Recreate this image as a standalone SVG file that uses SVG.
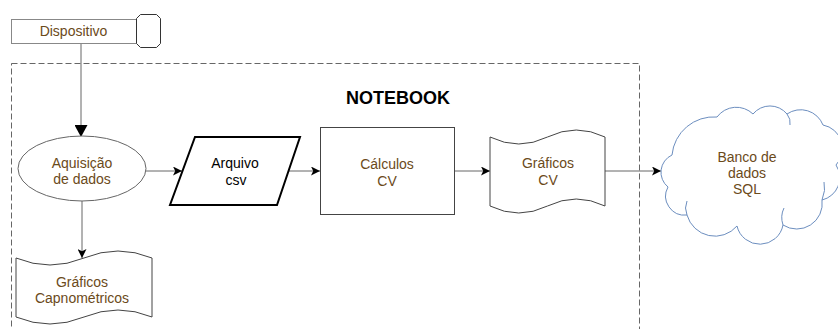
<svg xmlns="http://www.w3.org/2000/svg" width="838" height="329" viewBox="0 0 838 329">
<style>
text{font-family:"Liberation Sans",Arial,sans-serif;font-size:14px;text-anchor:middle;fill:#6b4a1a}
.shape{fill:#fff;stroke:#444;stroke-width:1}
.conn{fill:none;stroke:#666;stroke-width:1}
.dark{fill:#000}
</style>
<defs>
<marker id="block" markerUnits="userSpaceOnUse" viewBox="0 0 12 13" refX="12" refY="6.5" markerWidth="12" markerHeight="13" orient="auto">
<path d="M0,0 L12,6.5 L0,13 z" fill="#000"/>
</marker>
<marker id="classic" markerUnits="userSpaceOnUse" viewBox="0 0 9 9" refX="9" refY="4.5" markerWidth="9" markerHeight="9" orient="auto">
<path d="M0,0 L9,4.5 L0,9 L2.2,4.5 z" fill="#000"/>
</marker>
</defs>

<g id="notebook-frame">
<rect x="11.5" y="63.5" width="628" height="300" fill="none" stroke="#666" stroke-width="1" stroke-dasharray="6 3"/>
<text x="398" y="104" style="font-size:18px;font-weight:bold;fill:#000">NOTEBOOK</text>
</g>

<g id="connectors">
<line class="conn" x1="81" y1="43" x2="81" y2="137" marker-end="url(#block)"/>
<line class="conn" x1="146" y1="171" x2="182" y2="171" marker-end="url(#classic)"/>
<line class="conn" x1="82" y1="201" x2="82" y2="258" marker-end="url(#classic)"/>
<line class="conn" x1="288" y1="171" x2="320" y2="171" marker-end="url(#classic)"/>
<line class="conn" x1="454" y1="171" x2="490" y2="171" marker-end="url(#classic)"/>
<line class="conn" x1="605" y1="171" x2="661" y2="171" marker-end="url(#classic)"/>
</g>

<g id="dispositivo">
<rect x="11.5" y="19.5" width="125" height="24" fill="#fff" stroke="#888"/>
<path d="M140.5,14.5 L156.5,14.5 L160.5,18.5 L160.5,43.5 L156.5,47.5 L140.5,47.5 L136.5,43.5 L136.5,18.5 Z" fill="#fff" stroke="#333"/>
<text x="73.5" y="36">Dispositivo</text>
</g>

<g id="aquisicao">
<ellipse cx="82" cy="168.5" rx="64" ry="32.5" class="shape" style="stroke:#666"/>
<text x="82" y="168">Aquisição</text>
<text x="82" y="184">de dados</text>
</g>

<g id="graficos-capnometricos">
<path class="shape" d="M16,258 Q50,272 84,258 Q118,244 152,258 L152,317 Q118,303 84,317 Q50,331 16,317 Z"/>
<text x="82" y="287">Gráficos</text>
<text x="82" y="303">Capnométricos</text>
</g>

<g id="arquivo-csv">
<path d="M195,137 L300,137 L277,205 L170,205 Z" fill="#fff" stroke="#000" stroke-width="2"/>
<text x="235" y="168" style="fill:#000">Arquivo</text>
<text x="236" y="185" style="fill:#000">csv</text>
</g>

<g id="calculos-cv">
<rect x="320.5" y="127.5" width="134" height="87" class="shape"/>
<text x="387" y="169">Cálculos</text>
<text x="387" y="186">CV</text>
</g>

<g id="graficos-cv">
<path class="shape" d="M490,137 Q518.75,151 547.5,137 Q576.25,123 605,137 L605,206 Q576.25,192 547.5,206 Q518.75,220 490,206 Z"/>
<text x="548" y="168">Gráficos</text>
<text x="548" y="185">CV</text>
</g>

<g id="banco-de-dados">
<path d="M672,155 A42,42 0 0 1 717,117 A24,24 0 0 1 753,114 A22,22 0 0 1 787,114 A24,24 0 0 1 823,125 A24,24 0 0 1 836,165 A23,23 0 0 1 822,200 A25.5,25.5 0 0 1 783,225 A23.5,23.5 0 0 1 737,226 A29,29 0 0 1 687,215 A19,19 0 0 1 668,187 A19,19 0 0 1 672,155 Z" fill="#fff" stroke="#6c8ebf" stroke-width="1"/>
<path d="M822,200 Q826,190 824,182 M783,225 Q780,216 784,208 M787,114 Q791,119 790,125 M687,215 Q684,208 687,201" fill="none" stroke="#6c8ebf" stroke-width="1"/>
<text x="747" y="162">Banco de</text>
<text x="747" y="178">dados</text>
<text x="747" y="194">SQL</text>
</g>
</svg>
